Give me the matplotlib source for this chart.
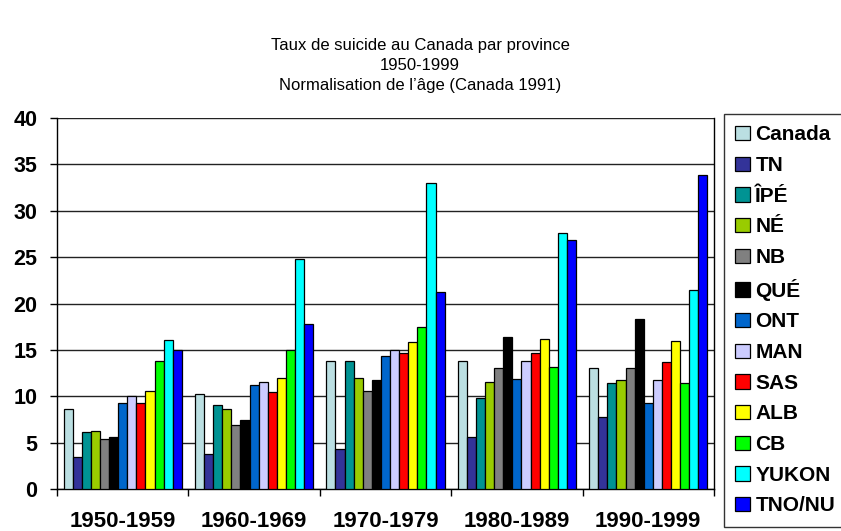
import numpy as np
import matplotlib
matplotlib.use("Agg")
import matplotlib.pyplot as plt
from matplotlib.ticker import FixedLocator

plt.rcParams['font.family'] = ['Liberation Sans', 'DejaVu Sans']

decades = ["1950-1959", "1960-1969", "1970-1979", "1980-1989", "1990-1999"]
provinces = ["Canada", "TN", "ÎPÉ", "NÉ", "NB", "QUÉ", "ONT", "MAN",
             "SAS", "ALB", "CB", "YUKON", "TNO/NU"]
colors = ["#BBDFE2", "#333399", "#009393", "#99CC00", "#808080", "#000000",
          "#0066CC", "#CCCCFF", "#FF0000", "#FFFF00", "#00FF00", "#00FFFF",
          "#0000FF"]

# taux par province, une liste par décennie
d1950 = [8.6, 3.4, 6.1, 6.2, 5.4, 5.6, 9.3, 10.0, 9.3, 10.6, 13.8, 16.1, 15.0]
d1960 = [10.2, 3.8, 9.1, 8.6, 6.9, 7.4, 11.2, 11.5, 10.5, 12.0, 15.0, 24.8, 17.8]
d1970 = [13.8, 4.3, 13.8, 12.0, 10.6, 11.8, 14.3, 15.0, 14.7, 15.8, 17.5, 33.0, 21.2]
d1980 = [13.8, 5.6, 9.8, 11.5, 13.0, 16.4, 11.9, 13.8, 14.7, 16.2, 13.2, 27.6, 26.8]
d1990 = [13.0, 7.8, 11.4, 11.7, 13.0, 18.3, 9.3, 11.8, 13.7, 16.0, 11.4, 21.5, 33.9]
values = np.array([d1950, d1960, d1970, d1980, d1990])

fig = plt.figure(figsize=(8.41, 5.31), dpi=100)
ax = fig.add_axes([57/841, 1-489/531, (714-57)/841, (489-118)/531])

n = len(provinces)
w = 0.9 / n
x = np.arange(len(decades))
for i, p in enumerate(provinces):
    pos = x - 0.45 + w * (i + 0.5)
    ax.bar(pos, values[:, i], width=w, color=colors[i], edgecolor='black',
           linewidth=0.9, label=p, zorder=3)

ax.set_xlim(-0.5, len(decades) - 0.5)
ax.set_ylim(0, 40)
ax.set_yticks(range(0, 41, 5))
ax.yaxis.grid(True, color='#222222', linewidth=1.0, zorder=0)
ax.tick_params(axis='y', length=5, width=1, direction='out', pad=9,
               labelsize=15.5)
for t in ax.get_yticklabels():
    t.set_fontweight('bold')

ax.set_xticks(x)
ax.set_xticklabels(decades, fontsize=16, fontweight='bold')
ax.tick_params(axis='x', which='major', length=0, pad=16)
ax.xaxis.set_minor_locator(FixedLocator(np.arange(-0.5, len(decades), 1.0)))
ax.tick_params(axis='x', which='minor', length=5, width=1, direction='out')
for s in ax.spines.values():
    s.set_color('black')
    s.set_linewidth(1.0)
ax.spines['top'].set_visible(False)

fig.text(420/841, 1-38/531,
         "Taux de suicide au Canada par province\n1950-1999\n"
         "Normalisation de l’âge (Canada 1991)",
         ha='center', va='top', fontsize=12, linespacing=1.4)

leg = fig.legend(loc='upper left', bbox_to_anchor=(724/841, 1-114/531),
                 frameon=True, fancybox=False, edgecolor='black',
                 prop={'weight': 'bold', 'size': 15},
                 handlelength=0.7, handleheight=0.7, handletextpad=0.25,
                 labelspacing=0.56, borderpad=0.55, borderaxespad=0)
leg.get_frame().set_linewidth(1.0)

fig.savefig("out.png", dpi=100)
